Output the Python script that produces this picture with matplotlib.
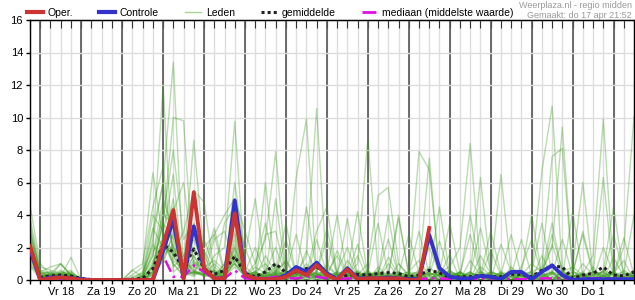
import numpy as np
import matplotlib
matplotlib.use('Agg')
import matplotlib.pyplot as plt
from matplotlib.lines import Line2D

plt.rcParams['font.family'] = ['Liberation Sans', 'DejaVu Sans']

# 6-hourly steps, starting do 17 apr 18:00
day_labels = ['Vr 18', 'Za 19', 'Zo 20', 'Ma 21', 'Di 22', 'Wo 23', 'Do 24',
              'Vr 25', 'Za 26', 'Zo 27', 'Ma 28', 'Di 29', 'Wo 30', 'Do 1']

oper = [2.1, 0.0, 0.1, 0.15, 0.1, 0, 0, 0, 0, 0, 0, 0,
        0.0, 2.15, 4.3, 0.1, 5.4, 0.7, 0.1, 0.1, 4.1, 0.3, 0.1, 0.05,
        0.05, 0.2, 0.6, 0.3, 0.92, 0.3, 0.02, 0.65, 0.05, 0.1, 0.1, 0.1,
        0.1, 0.0, 0.0, 3.2]

controle = [1.9, 0.0, 0.15, 0.15, 0.1, 0.05, 0, 0, 0, 0, 0, 0,
            0.0, 1.8, 3.7, 0.1, 3.3, 0.7, 0.1, 0.1, 4.9, 0.3, 0.1, 0.05,
            0.05, 0.3, 0.8, 0.5, 1.07, 0.4, 0.05, 0.72, 0.1, 0.1, 0.1, 0.15,
            0.1, 0.05, 0.05, 2.77, 0.73, 0.2, 0.1, 0.1, 0.25, 0.2, 0.05, 0.5,
            0.5, 0.05, 0.5, 0.9, 0.3, 0.0, 0.05, 0.05, 0.05, 0.05, 0.05, 0.05]

gemiddelde = [1.95, 0.15, 0.25, 0.3, 0.25, 0.1, 0.02, 0.02, 0.02, 0.02, 0.05, 0.1,
              0.7, 2.2, 1.7, 0.7, 1.9, 0.7, 0.35, 0.6, 1.45, 0.4, 0.2, 0.5,
              1.0, 0.45, 0.5, 0.7, 0.8, 0.4, 0.1, 0.3, 0.35, 0.3, 0.4, 0.45,
              0.4, 0.2, 0.3, 0.6, 0.45, 0.15, 0.2, 0.2, 0.3, 0.2, 0.2, 0.35,
              0.35, 0.2, 0.6, 0.85, 0.8, 0.1, 0.3, 0.4, 0.8, 0.3, 0.25, 0.5]

mediaan = [1.9, 0.05, 0.05, 0.1, 0.05, 0, 0, 0, 0, 0, 0, 0,
           0.1, 1.5, 0.2, 0.2, 0.9, 0.5, 0.05, 0.1, 0.6, 0.1, 0.05, 0.1,
           0.2, 0.1, 0.1, 0.2, 0.2, 0.1, 0.05, 0.1, 0.1, 0.05, 0.1, 0.1,
           0.05, 0.05, 0.05, 0.1, 0.1, 0.05, 0.05, 0.05, 0.1, 0.1, 0.1, 0.05,
           0.05, 0.05, 0.1, 0.1, 0.1, 0.05, 0.05, 0.1, 0.1, 0.05, 0.05, 0.1]

# ensemble members (Leden), read off approximately
leden = [
    [2.5, 0.3, 0.2, 0.4, 0.2, 0, 0, 0, 0, 0, 0, 0.2,
     3.0, 6.0, 13.4, 0.5, 2.0, 0.6, 0.2, 1.0, 3.0, 0.5, 0.2, 1.5,
     0.4, 0, 0.3, 1.0, 0.2, 0, 0.5, 2.0, 0.3, 0, 0.8, 0.2,
     0, 0.5, 1.2, 0.3, 0, 0.6, 0.2, 0, 1.5, 0.4, 0, 0,
     0.8, 2.5, 0.3, 0, 0.5, 0, 1.0, 0.3, 0, 0.4, 1.2, 0],
    [3.5, 0.5, 0.8, 1.0, 0.3, 0, 0, 0, 0, 0, 0.1, 0.5,
     2.0, 12.0, 0.5, 1.0, 0.3, 2.5, 0.8, 0.3, 1.5, 0.2, 0, 0.5,
     2.0, 0.3, 0, 0.5, 0, 0.2, 1.8, 0.4, 0, 0.3, 0, 1.0,
     0.2, 0, 0.3, 2.0, 0.4, 0, 0.5, 0, 0.2, 1.8, 0.3, 0,
     0.3, 0, 1.5, 0.2, 0, 0.8, 0.3, 0, 2.0, 0.4, 0, 0.6],
    [1.5, 0.2, 0.1, 0.3, 0.5, 0, 0, 0, 0, 0, 0, 0,
     1.0, 3.5, 10.0, 9.8, 0.5, 0.3, 2.5, 3.0, 1.0, 0.2, 0.5, 0,
     0.3, 1.2, 0, 0, 2.5, 0.4, 0, 0, 0.6, 0.2, 0, 1.4,
     0.3, 0, 0, 0.8, 0.2, 1.6, 0, 0.3, 0, 0, 2.2, 0.5,
     0, 0.2, 0, 1.0, 0.3, 0, 0, 0.5, 0.2, 0, 0, 0.3],
    [2.0, 0.4, 0.5, 0.2, 1.4, 0, 0, 0, 0, 0, 0, 0,
     0.5, 4.5, 2.0, 0.8, 8.6, 1.5, 0.3, 0.2, 4.0, 0.5, 0, 0.3,
     0.8, 0, 0.4, 0.2, 0, 1.0, 0.3, 0, 0.2, 0.6, 0, 0,
     1.0, 0.3, 0, 0, 0.4, 0.2, 0, 1.2, 0.3, 0, 0.5, 0,
     0, 0, 0.4, 2.8, 0.6, 0, 0.3, 0, 0, 1.4, 0.2, 0],
    [4.6, 1.0, 0.3, 0.2, 0, 0, 0, 0, 0, 0, 0.3, 0.8,
     6.6, 2.5, 1.0, 0.2, 0.5, 0.3, 1.5, 2.0, 9.75, 0.6, 0.2, 0,
     0.5, 0.2, 0, 0.8, 0, 0, 0.3, 0.2, 1.5, 0, 0.4, 0,
     0, 0.2, 0.6, 0, 0, 0.3, 0, 0.5, 0, 0.2, 0, 0.8,
     0.2, 0, 0, 0.4, 0, 0.2, 0.5, 0, 0.3, 0, 0.6, 0.2],
    [1.2, 0.1, 0.2, 1.0, 0.3, 0, 0, 0, 0, 0, 0.6, 0.2,
     0.8, 2.0, 4.5, 0.3, 1.2, 0.4, 0, 0.5, 2.0, 0.3, 1.0, 2.5,
     7.9, 0.5, 0, 0.2, 0.4, 0, 0, 0.8, 0.3, 0, 0.2, 0.5,
     0, 0, 0.3, 0, 0.6, 0.2, 0, 0, 0.4, 0, 0.3, 0,
     0, 0.5, 0.2, 0, 0, 0.3, 0, 0.8, 0, 0.2, 0, 0],
    [3.0, 0.6, 0.4, 0.2, 0.3, 0, 0, 0, 0, 0, 0, 0.3,
     1.5, 5.0, 3.0, 0.5, 0.2, 0.8, 2.8, 0.3, 1.0, 0.4, 0.3, 6.0,
     0.2, 0, 0.5, 0, 0.2, 0.3, 0, 0.2, 0, 0.4, 0, 0,
     0.3, 0.5, 0, 0.2, 0, 0.4, 0.3, 0, 0, 0.5, 0.2, 0,
     0.3, 0, 0.2, 0, 0.6, 0, 0, 0.3, 0.5, 0, 0, 0.4],
    [2.2, 0.2, 0.3, 0.6, 0.2, 0, 0, 0, 0, 0, 0, 0,
     0.3, 2.8, 6.5, 0.2, 1.0, 0.4, 0.3, 0.2, 2.5, 0.3, 0, 0.2,
     0.3, 0, 6.3, 9.9, 0.2, 0.3, 0, 0.4, 0.2, 0, 0.3, 0,
     0.2, 0, 0.4, 0.3, 0, 0, 0.5, 0, 0.2, 0, 0.3, 0,
     0, 0.2, 0, 0, 0.3, 0, 0.2, 0, 0, 0.5, 0, 0.2],
    [1.8, 0.3, 0.2, 0.4, 0.6, 0, 0, 0, 0, 0, 0, 0.1,
     2.5, 6.0, 1.5, 0.3, 0.5, 0.2, 0.6, 0.4, 1.8, 0.2, 0.4, 0.3,
     0.5, 1.2, 0.3, 1.5, 10.55, 0.3, 0, 0.2, 0.5, 0, 0, 0.3,
     0, 0.2, 0, 0, 0.3, 0, 0.5, 0, 0, 0.4, 0, 0.2,
     0.3, 0, 0, 0.2, 0, 0, 0.4, 0, 0.3, 0, 0.2, 0],
    [2.8, 0.4, 0.5, 0.3, 0.2, 0, 0, 0, 0, 0, 0.2, 0.4,
     4.0, 3.0, 0.8, 1.5, 0.4, 0.5, 0.2, 1.0, 3.5, 0.3, 0.5, 0.2,
     0.4, 0.3, 0, 0.5, 0.2, 0, 0.4, 0.3, 1.0, 8.7, 0.5, 0,
     0.3, 0, 0.2, 0.5, 0, 0.2, 0.3, 0, 0.5, 0, 0.2, 0,
     0.4, 0, 0.3, 0, 0.2, 0, 0.3, 0.5, 0, 0.2, 0, 0.3],
    [1.0, 0.2, 0.3, 0.5, 0.4, 0, 0, 0, 0, 0, 0, 0,
     0.5, 1.5, 3.5, 0.8, 2.0, 1.0, 0.4, 0.2, 1.2, 0.5, 2.0, 0.4,
     0.3, 0.5, 0.2, 0, 0.3, 0.4, 1.5, 0.2, 0.3, 1.0, 5.2, 5.7,
     1.0, 0.2, 0.3, 0, 0.4, 0, 0.2, 0.5, 0, 0.3, 0, 0,
     0.2, 0.3, 0, 0.5, 0, 0.3, 0, 0.2, 0, 0, 0.4, 0],
    [2.3, 0.3, 0.2, 0.2, 0.3, 0, 0, 0, 0, 0, 0, 0.2,
     1.2, 2.0, 5.0, 0.3, 1.5, 0.2, 0.3, 0.5, 2.2, 0.4, 0.3, 0.2,
     0.5, 0.3, 0.2, 1.8, 0.4, 0, 0.3, 0, 0.2, 0.5, 0, 0.3,
     0.5, 0.2, 7.9, 6.8, 0.5, 0, 0.3, 0, 0.2, 0, 0.5, 0.3,
     0, 0.2, 0, 0.4, 0, 0.3, 0, 0.2, 0, 0.4, 0, 0],
    [1.6, 0.2, 0.4, 0.3, 0.2, 0, 0, 0, 0, 0, 0, 0,
     0.8, 3.5, 2.5, 0.5, 3.0, 0.5, 0.2, 0.3, 1.5, 0.2, 0.8, 0.4,
     0.2, 0, 0.5, 0.3, 0.4, 0.2, 0, 1.2, 0.3, 0, 0.4, 0.2,
     0.3, 0, 0.5, 7.5, 0.3, 0, 0.2, 0.5, 0, 0.3, 0, 0.2,
     0.3, 0, 0.5, 0, 0.2, 0, 0.3, 0, 0.6, 0, 0, 0.2],
    [3.2, 0.5, 0.3, 0.2, 0.5, 0, 0, 0, 0, 0, 0, 0.3,
     2.2, 1.0, 3.0, 1.2, 0.6, 0.3, 1.0, 0.4, 2.8, 0.3, 0.5, 1.0,
     0.3, 0.6, 0, 0.2, 0.5, 0.3, 0, 0.4, 0.2, 0.3, 0, 0.4,
     0, 0.3, 0.2, 0, 0.5, 0.8, 2.0, 8.4, 0.6, 0, 0.3, 0.2,
     0, 0.3, 0.5, 0, 0, 0.2, 0.4, 0, 0.3, 0, 0.2, 0],
    [1.4, 0.2, 0.2, 0.4, 0.2, 0, 0, 0, 0, 0, 0, 0,
     0.4, 2.2, 1.5, 0.5, 1.0, 0.8, 0.5, 0.2, 1.2, 0.8, 0.3, 0.2,
     0.4, 0, 0.3, 0.5, 0.2, 0.8, 0.3, 0, 0.5, 0.2, 0.3, 0,
     0.5, 0.2, 0, 0.4, 0.3, 0.5, 0, 0.3, 6.3, 0.4, 6.5, 0.5,
     0.3, 0, 0.2, 0.5, 0, 0, 0.4, 0, 0.2, 0.5, 0, 0.3],
    [2.0, 0.3, 0.1, 0.5, 0.3, 0, 0, 0, 0, 0, 0, 0,
     0.6, 1.8, 2.0, 0.4, 0.8, 0.5, 0.3, 0.6, 1.0, 0.2, 0, 0.3,
     0.2, 0.4, 0, 0.3, 0.2, 0.5, 0.3, 0, 0.4, 0.2, 0.6, 0,
     0.3, 0, 0.2, 0.5, 0, 0.3, 0.4, 0, 0.2, 0.5, 0.3, 0,
     0.4, 0.5, 6.7, 10.7, 0.5, 0.2, 0, 0.3, 0.5, 0, 0.2, 0.4],
    [2.6, 0.4, 0.3, 0.2, 0.4, 0, 0, 0, 0, 0, 0, 0.1,
     1.8, 2.5, 1.2, 0.6, 0.3, 1.8, 0.5, 0.4, 2.0, 0.3, 0.2, 0.5,
     1.0, 0.2, 0.4, 0, 0.3, 0.2, 0.5, 0.3, 0, 0.4, 0.2, 0.3,
     0, 0.4, 0.3, 0, 0.2, 0.6, 0, 0.4, 0.3, 0, 0.2, 0.5,
     0.3, 1.0, 0.5, 2.0, 9.4, 0.6, 0, 0.3, 0.2, 0.5, 0, 0.3],
    [0.8, 0.1, 0.2, 0.3, 0.2, 0, 0, 0, 0, 0, 0, 0,
     0.3, 1.2, 2.8, 0.3, 1.5, 0.5, 0.3, 0.2, 0.8, 0.3, 0.5, 0.2,
     0.3, 0.2, 0.5, 0.4, 0, 0.3, 0.2, 0.5, 0, 0.3, 0.2, 0,
     0.4, 0, 0.3, 0.2, 0, 0.3, 0.5, 0, 0.2, 0.3, 0, 0.4,
     0.2, 0.5, 0.8, 7.6, 8.1, 0.5, 0.3, 0, 0.2, 0, 0.4, 0.2],
    [2.4, 0.3, 0.4, 0.2, 0.3, 0, 0, 0, 0, 0, 0, 0,
     1.0, 2.5, 1.8, 0.4, 0.6, 0.3, 0.5, 0.3, 1.4, 0.3, 0.2, 0.4,
     0.6, 0.3, 0.2, 0.5, 0.3, 0, 0.4, 0.2, 0.5, 0, 0.3, 0.2,
     0.3, 0.2, 0, 0.3, 0.5, 0, 0.2, 0.4, 0, 0.5, 0.2, 0,
     0.3, 0.2, 0.4, 0, 0.5, 0.8, 6.0, 0.4, 6.3, 0.3, 0.5, 0.2],
    [1.9, 0.2, 0.3, 0.4, 0.2, 0, 0, 0, 0, 0, 0, 0.2,
     0.7, 2.2, 1.0, 0.3, 0.5, 0.4, 0.2, 0.5, 1.6, 0.2, 0.3, 0.5,
     0.2, 0.5, 0.3, 0.2, 0.4, 0, 0.5, 0.3, 0.2, 0.4, 0, 0.3,
     0.2, 0.3, 0.5, 0, 0.3, 0.2, 0, 0.3, 0.5, 0, 0.4, 0.2,
     0, 0.3, 0.2, 0.5, 0.3, 0, 0.4, 1.5, 9.9, 0.5, 0.2, 0],
    [2.1, 0.2, 0.2, 0.3, 0.4, 0, 0, 0, 0, 0, 0, 0,
     0.4, 1.5, 2.2, 0.6, 0.4, 0.3, 0.6, 0.2, 1.0, 0.5, 0.2, 0.3,
     0.3, 0.2, 0.5, 0.3, 0.2, 0.4, 0.3, 0, 0.3, 0.2, 0.5, 0,
     0.3, 0, 0.2, 0.4, 0.3, 0, 0.5, 0.2, 0, 0.3, 0.2, 0,
     0.2, 0, 0.3, 0.4, 0, 0.5, 0.2, 0, 0.6, 0.3, 2.0, 10.05],
    [3.8, 0.8, 0.6, 0.4, 0.3, 0, 0, 0, 0, 0, 0, 0.2,
     1.5, 4.0, 3.5, 1.5, 2.5, 0.8, 1.2, 0.6, 6.0, 1.5, 5.0, 0.5,
     0.4, 2.5, 0.3, 0.6, 0.4, 0.5, 4.0, 0.3, 0.2, 0.5, 0.3, 4.0,
     0.3, 0.5, 0.4, 3.0, 0.2, 0.5, 0.3, 0, 0.8, 0.3, 0.2, 0.5,
     0.4, 0.3, 0.5, 3.5, 0.4, 0.3, 0.2, 0.5, 0.3, 0.4, 0.2, 0.5],
    [1.3, 0.2, 0.4, 1.0, 0.3, 0, 0, 0, 0, 0, 0.6, 1.0,
     4.5, 7.0, 1.5, 3.0, 5.5, 4.8, 0.5, 3.5, 4.5, 0.3, 0.4, 0.2,
     5.0, 0.3, 0.5, 0.4, 3.0, 4.5, 0.3, 0.5, 4.2, 0.3, 0.4, 0.3,
     4.0, 0.3, 0.2, 0.5, 4.5, 0.3, 0.2, 4.0, 0.5, 0.3, 0.4, 0.2,
     0.5, 4.0, 0.3, 0.5, 0.2, 4.2, 0.3, 0.4, 0.5, 4.5, 0.3, 0.2],
    [2.9, 0.5, 0.2, 0.3, 0.2, 0, 0, 0, 0, 0, 0, 0,
     0.5, 3.8, 8.0, 2.5, 3.5, 2.0, 2.8, 4.0, 5.0, 3.0, 1.0, 3.5,
     0.5, 3.5, 0.3, 4.5, 0.5, 2.5, 0.3, 3.8, 0.2, 0.4, 3.5, 0.3,
     3.8, 0.4, 3.0, 0.3, 0.5, 3.5, 0.4, 0.3, 3.2, 0.5, 0.3, 2.8,
     0.3, 0.5, 3.5, 0.4, 2.5, 0.3, 3.0, 0.5, 0.3, 2.8, 0.4, 4.0],
    [0.9, 0.3, 0.3, 0.2, 0.2, 0, 0, 0, 0, 0, 0, 0.4,
     3.2, 2.0, 4.2, 6.0, 1.0, 1.2, 3.2, 0.5, 3.8, 2.0, 0.3, 2.8,
     3.0, 0.4, 2.8, 0.3, 0.5, 3.2, 0.4, 0.3, 2.2, 0.3, 0.4, 2.5,
     0.3, 2.8, 0.4, 0.3, 2.4, 0.3, 0.4, 2.8, 0.3, 3.0, 0.4, 0.3,
     2.5, 0.3, 0.4, 2.2, 0.3, 0.5, 2.8, 0.3, 0.4, 0.3, 2.6, 0.3],
]

n = len(controle)
x = np.arange(n)

fig = plt.figure(figsize=(6.35, 3.0), dpi=100)
ax = fig.add_axes([30/635, 20/300, 604/635, 260/300])

# grid: light every 6h / every 2 mm, dark at midnight
for i in x:
    ax.axvline(i, color='#dddddd', lw=1, zorder=0)
for i in x[1::4]:
    ax.axvline(i, color='#555555', lw=1.2, zorder=0.5)
ax.yaxis.grid(True, color='#dddddd', lw=1, zorder=0)
ax.set_axisbelow(True)

for m in leden:
    ax.plot(x, m, color='#3c9a1e', lw=1, alpha=0.35, zorder=1)

ax.plot(x, gemiddelde, color='#222222', lw=2.2, ls=(0, (1, 1)), zorder=3)
ax.plot(x, mediaan, color='#e010e0', lw=1.8, ls=(0, (5, 2, 1, 2)), zorder=3)
ax.plot(x, controle, color='#3333cc', lw=2.8, zorder=4)
ax.plot(x[:len(oper)], oper, color='#cc3333', lw=2.8, zorder=5)

ax.set_xlim(0, n - 1)
ax.set_ylim(0, 16)
ax.set_yticks(np.arange(0, 17, 2))
ax.set_xticks(x)
labels = [''] * n
for k, lab in enumerate(day_labels):
    labels[3 + 4 * k] = lab
ax.set_xticklabels(labels)
ax.tick_params(axis='both', direction='out', length=3, width=1, labelsize=8, colors='black', pad=2)

top = ax.secondary_xaxis('top')
top.set_xticks(x)
top.tick_params(direction='in', length=5.5, width=0.8, labeltop=False, colors='#333333')

for s in ax.spines.values():
    s.set_color('black')
    s.set_linewidth(1)

handles = [
    Line2D([], [], color='#cc3333', lw=3),
    Line2D([], [], color='#3333cc', lw=3),
    Line2D([], [], color='#a8d890', lw=1),
    Line2D([], [], color='#222222', lw=2.2, ls=(0, (1, 1))),
    Line2D([], [], color='#e010e0', lw=2, ls=(0, (5, 2, 1, 2))),
]
names = ['Oper.', 'Controle', 'Leden', 'gemiddelde', 'mediaan (middelste waarde)']
fig.legend(handles, names, loc='center left', bbox_to_anchor=(27/635, 1 - 13/300),
           ncol=5, frameon=False, fontsize=7.5, handlelength=1.5, handletextpad=0.45,
           columnspacing=2.55, borderpad=0, borderaxespad=0)

fig.text(632/635, 1 - 6/300, 'Weerplaza.nl - regio midden', ha='right', va='center',
         fontsize=6.5, color='#999999')
fig.text(632/635, 1 - 16/300, 'Gemaakt: do 17 apr 21:52', ha='right', va='center',
         fontsize=6.5, color='#999999')

fig.savefig('out.png', dpi=100)
